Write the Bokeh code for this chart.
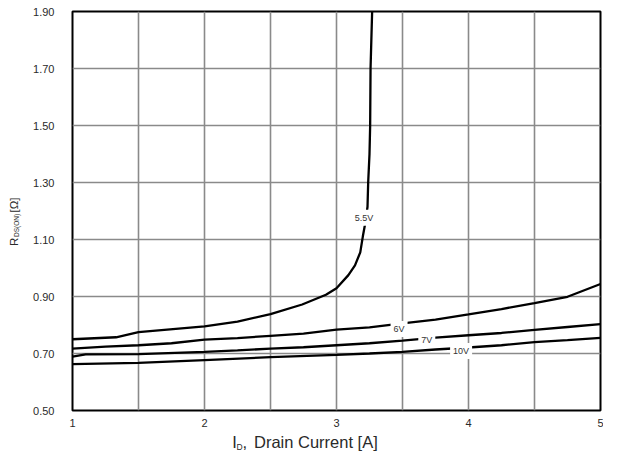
import numpy as np
from bokeh.plotting import figure
from bokeh.models import FixedTicker
from bokeh.layouts import row, column
from bokeh.embed import file_html
from bokeh.resources import INLINE
from bokeh.core.properties import value

# ---- data ----
id_55 = [1.0, 1.33, 1.5, 2.0, 2.25, 2.5, 2.74, 2.92, 3.0, 3.09, 3.14, 3.18, 3.2, 3.215, 3.235, 3.24, 3.25, 3.255, 3.258, 3.27]
r_55 = [0.750, 0.757, 0.775, 0.795, 0.812, 0.838, 0.872, 0.906, 0.929, 0.975, 1.009, 1.055, 1.112, 1.15, 1.215, 1.30, 1.40, 1.50, 1.70, 1.90]

id_6 = [1.0, 1.25, 1.5, 1.75, 2.0, 2.25, 2.5, 2.75, 3.0, 3.25, 3.5, 3.75, 4.0, 4.25, 4.5, 4.75, 5.0]
r_6 = [0.717, 0.724, 0.729, 0.736, 0.749, 0.754, 0.762, 0.770, 0.784, 0.792, 0.806, 0.819, 0.837, 0.856, 0.877, 0.899, 0.944]

id_7 = [1.0, 1.1, 1.5, 2.0, 2.25, 2.5, 2.75, 3.0, 3.25, 3.5, 3.75, 4.0, 4.25, 4.5, 4.75, 5.0]
r_7 = [0.689, 0.697, 0.698, 0.706, 0.711, 0.717, 0.722, 0.729, 0.736, 0.745, 0.756, 0.764, 0.772, 0.783, 0.793, 0.803]

id_10 = [1.0, 1.5, 2.0, 2.5, 3.0, 3.25, 3.5, 3.75, 4.0, 4.25, 4.5, 4.75, 5.0]
r_10 = [0.663, 0.667, 0.677, 0.687, 0.695, 0.700, 0.706, 0.714, 0.721, 0.729, 0.740, 0.747, 0.755]

curve_labels = ["5.5V", "6V", "7V", "10V"]
label_id = [3.209, 3.474, 3.684, 3.944]
label_r = [1.176, 0.786, 0.747, 0.709]

x_ticks = [1, 2, 3, 4, 5]
x_tick_labels = ["1", "2", "3", "4", "5"]
x_grid = [1.0, 1.5, 2.0, 2.5, 3.0, 3.5, 4.0, 4.5, 5.0]
y_ticks = [0.5, 0.7, 0.9, 1.1, 1.3, 1.5, 1.7, 1.9]
y_tick_labels = ["0.50", "0.70", "0.90", "1.10", "1.30", "1.50", "1.70", "1.90"]

FONT = "Liberation Sans"
TXT = "#2a2a2a"

YW = 24            # width of the y-title strip
PW, PH = 579, 430  # main plot
XH = 24            # height of the x-title strip

p = figure(width=PW, height=PH, x_range=(1, 5), y_range=(0.5, 1.9),
           output_backend="svg", toolbar_location=None,
           min_border_left=48, min_border_right=3, min_border_top=11, min_border_bottom=20)
p.background_fill_color = "white"
p.border_fill_color = "white"
p.outline_line_color = "black"
p.outline_line_width = 2

p.xaxis.ticker = FixedTicker(ticks=x_ticks)
p.xaxis.major_label_overrides = {t: s for t, s in zip(x_ticks, x_tick_labels)}
p.yaxis.ticker = FixedTicker(ticks=y_ticks)
p.yaxis.major_label_overrides = {t: s for t, s in zip(y_ticks, y_tick_labels)}
for ax in (p.xaxis, p.yaxis):
    ax.axis_line_color = None
    ax.major_tick_line_color = None
    ax.minor_tick_line_color = None
    ax.major_tick_out = 0
    ax.major_tick_in = 0
    ax.minor_tick_out = 0
    ax.major_label_text_font = FONT
    ax.major_label_text_font_size = "11px"
    ax.major_label_text_color = TXT
p.xaxis.major_label_standoff = 8
p.yaxis.major_label_standoff = 18

p.xgrid.ticker = FixedTicker(ticks=x_grid)
p.ygrid.ticker = FixedTicker(ticks=y_ticks)
p.grid.grid_line_color = "#8a8a8a"
p.grid.grid_line_width = 1.6

for xs, ys in ((id_55, r_55), (id_6, r_6), (id_7, r_7), (id_10, r_10)):
    p.line(xs, ys, line_color="black", line_width=2.3)

p.text(x=label_id, y=label_r, text=curve_labels, text_font=value(FONT),
       text_font_size="9px", text_color="#333333", text_align="center",
       text_baseline="middle", background_fill_color="white", padding=3)


def strip(w, h, xr):
    f = figure(width=w, height=h, x_range=xr, y_range=(0, h),
               x_axis_type=None, y_axis_type=None, output_backend="svg",
               toolbar_location=None, min_border=0,
               min_border_left=0, min_border_right=0, min_border_top=0, min_border_bottom=0)
    f.title.visible = False
    f.outline_line_color = None
    f.background_fill_color = "white"
    f.border_fill_color = "white"
    return f


# y title strip: R_DS(ON) [Ω]
ys_fig = strip(YW, PH + XH, (0, YW))
ys_fig.text(x=[13], y=[208.5], text=["R"], angle=np.pi / 2, text_font=value(FONT),
            text_font_size="11.5px", text_color=TXT, text_align="left", text_baseline="middle")
ys_fig.text(x=[16], y=[217.5], text=["DS(ON)"], angle=np.pi / 2, text_font=value(FONT),
            text_font_size="6.5px", text_color=TXT, text_align="left", text_baseline="middle")
ys_fig.text(x=[13], y=[242], text=["[Ω]"], angle=np.pi / 2, text_font=value(FONT),
            text_font_size="11.5px", text_color=TXT, text_align="left", text_baseline="middle")

# x title strip (shares the drain-current range): I_D, Drain Current [A]
xs_fig = strip(PW, XH, p.x_range)
xs_fig.text(x=[2.21], y=[13], text=["I"], text_font=value(FONT), text_font_size="16.5px",
            text_color=TXT, text_align="left", text_baseline="middle")
xs_fig.text(x=[2.243], y=[7.5], text=["D"], text_font=value(FONT), text_font_size="8.5px",
            text_color=TXT, text_align="left", text_baseline="middle")
xs_fig.text(x=[2.287], y=[13], text=[","], text_font=value(FONT), text_font_size="16.5px",
            text_color=TXT, text_align="left", text_baseline="middle")
xs_fig.text(x=[2.375], y=[13], text=["Drain Current [A]"], text_font=value(FONT), text_font_size="16.5px",
            text_color=TXT, text_align="left", text_baseline="middle")

layout = row(ys_fig, column(p, xs_fig))
open("out.html", "w").write(file_html(layout, INLINE))
